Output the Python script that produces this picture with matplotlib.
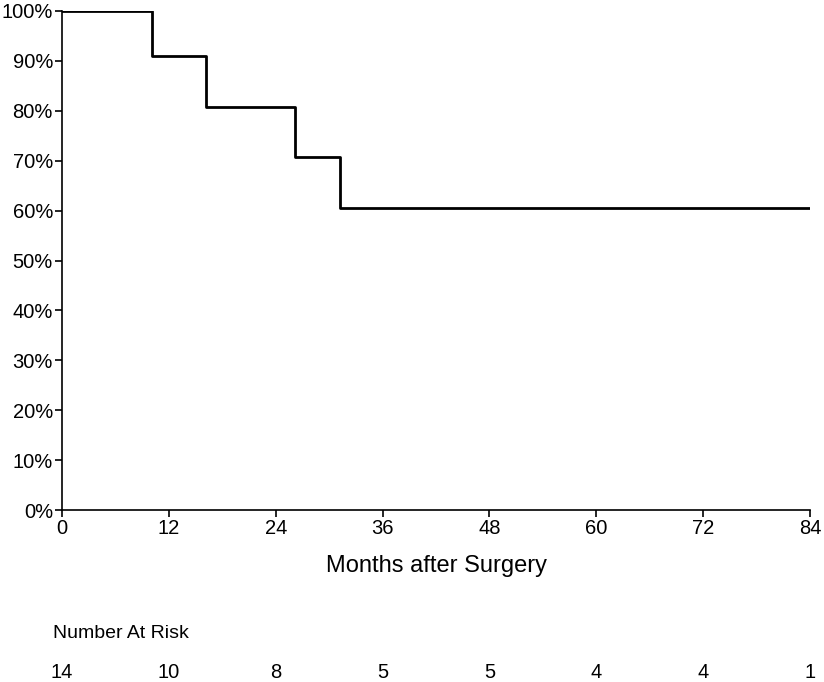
import matplotlib
matplotlib.use("Agg")
import matplotlib.pyplot as plt
import matplotlib.transforms as mtransforms
from matplotlib.ticker import FuncFormatter

plt.rcParams['font.family'] = ['Liberation Sans', 'DejaVu Sans']

# Kaplan-Meier step data (months, survival fraction)
times = [0, 10.1, 16.2, 26.2, 31.2, 84]
survival = [1.0, 0.909, 0.808, 0.707, 0.606, 0.606]

x_ticks = [0, 12, 24, 36, 48, 60, 72, 84]
y_ticks = [0, 0.1, 0.2, 0.3, 0.4, 0.5, 0.6, 0.7, 0.8, 0.9, 1.0]
at_risk = [14, 10, 8, 5, 5, 4, 4, 1]

fig = plt.figure(figsize=(8.24, 6.82), dpi=100)
ax = fig.add_axes([62/824, 1-510/682, (810-62)/824, (510-11)/682])

ax.step(times, survival, where='post', color='black', linewidth=2)

ax.set_xlim(0, 84)
ax.set_ylim(0, 1.0)
ax.set_xticks(x_ticks)
ax.set_yticks(y_ticks)
ax.yaxis.set_major_formatter(FuncFormatter(lambda v, p: f"{v*100:.0f}%"))
for s in ['top', 'right']:
    ax.spines[s].set_visible(False)
for s in ['left', 'bottom']:
    ax.spines[s].set_linewidth(1.2)
ax.tick_params(axis='both', direction='out', length=5, width=1.2, labelsize=14.5, pad=1.5, colors='black')
ax.set_xlabel("Months after Surgery", fontsize=17, labelpad=12)

trans = mtransforms.blended_transform_factory(ax.transData, fig.transFigure)
fig.text(53/824, 1-634/682, "Number At Risk", fontsize=14, ha='left', va='center')
for xt, n in zip(x_ticks, at_risk):
    ax.text(xt, 1-672/682, str(n), transform=trans, fontsize=14.5, ha='center', va='center', clip_on=False)

fig.savefig("out.png", dpi=100)
